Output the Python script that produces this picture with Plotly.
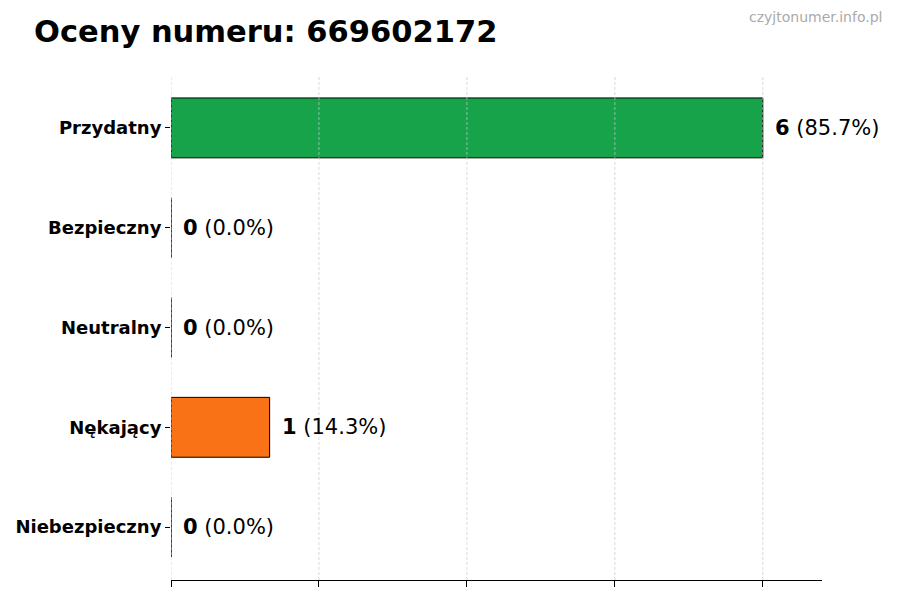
import plotly.graph_objects as go

categories = ["Przydatny", "Bezpieczny", "Neutralny", "Nękający", "Niebezpieczny"]
counts = [6, 0, 0, 1, 0]
percents = [85.7, 0.0, 0.0, 14.3, 0.0]
colors = ["#16a34a", "#2563eb", "#9ca3af", "#f97316", "#dc2626"]
x_ticks = [0, 1.5, 3, 4.5, 6]

font = "DejaVu Sans"

fig = go.Figure()
fig.add_trace(go.Bar(
    y=categories,
    x=counts,
    orientation="h",
    width=0.6,
    marker=dict(color=colors, line=dict(color="black", width=1)),
    hoverinfo="skip",
))

# value labels next to bars
for cat, c, p in zip(categories, counts, percents):
    fig.add_annotation(
        x=c, y=cat, xref="x", yref="y",
        text="<b>{}</b> ({:.1f}%)".format(c, p),
        showarrow=False, xanchor="left", yanchor="middle",
        xshift=10, font=dict(family=font, size=21, color="black"),
    )

# watermark top right
fig.add_annotation(
    x=1.0952, y=1.1149, xref="paper", yref="paper", text="czyjtonumer.info.pl",
    showarrow=False, font=dict(family=font, size=14, color="#aaaaaa"),
    xanchor="right", yanchor="middle",
)

# dashed grid drawn above the bars, like the original
for t in x_ticks:
    fig.add_shape(
        type="line", x0=t, x1=t, y0=0, y1=1, xref="x", yref="paper",
        line=dict(color="rgba(200,200,200,0.7)", width=1, dash="3px,2px"),
        layer="above",
    )

fig.update_layout(
    width=892, height=592,
    margin=dict(l=163, r=78, t=67, b=20),
    paper_bgcolor="white", plot_bgcolor="white",
    showlegend=False,
    title=dict(
        text="<b>Oceny numeru: 669602172</b>",
        x=26 / 892, xanchor="left", y=1 - 23 / 592, yanchor="middle",
        font=dict(family=font, size=30.5, color="black"),
    ),
    font=dict(family=font),
)

fig.update_xaxes(
    range=[0, 6.6], tickvals=x_ticks, showticklabels=False,
    ticks="outside", ticklen=6, tickcolor="black",
    showline=True, linecolor="black", linewidth=1,
    showgrid=False, zeroline=False, automargin=False,
)
fig.update_yaxes(
    categoryorder="array", categoryarray=categories,
    range=[4.53, -0.53],
    ticks="outside", ticklen=5, tickcolor="black",
    tickfont=dict(family=font, size=18, color="black", weight="bold"),
    showline=False, showgrid=False, zeroline=False, automargin=False,
)

fig.write_html("out.html")
